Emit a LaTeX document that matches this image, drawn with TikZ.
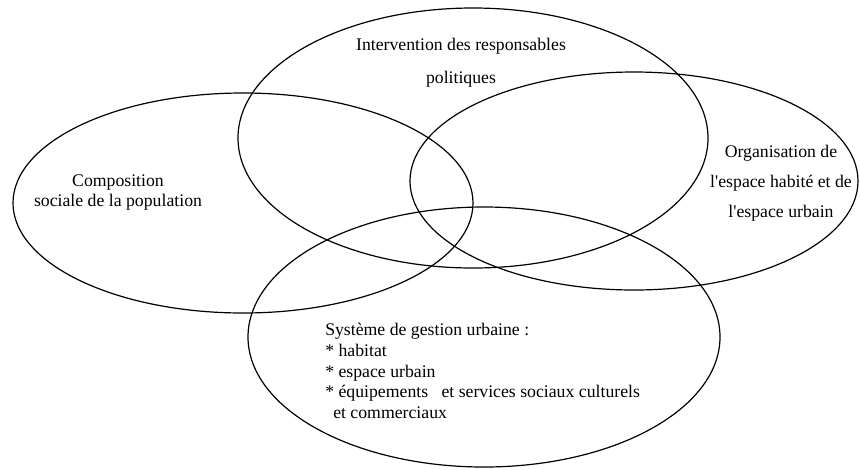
\documentclass[tikz,border=0pt]{standalone}
\usepackage{fontspec}
\setmainfont{Liberation Serif}
\usetikzlibrary{shapes.geometric}
\tikzset{
  zone/.style={draw, ellipse, line width=0.9pt, inner sep=0pt},
  lbl/.style={inner sep=0pt, font=\fontsize{13.3}{15}\selectfont}
}
\newcommand{\apos}{\textquotesingle}
\begin{document}
\begin{tikzpicture}[x=0.75pt,y=-0.75pt]
\useasboundingbox (0,0) rectangle (860,469);
\node[zone, minimum width=470*0.75pt, minimum height=260*0.75pt] (politique) at (473,138) {};
\node[zone, minimum width=460*0.75pt, minimum height=220*0.75pt] (social) at (243,203) {};
\node[zone, minimum width=448*0.75pt, minimum height=218*0.75pt] (espace) at (634,181) {};
\node[zone, minimum width=472*0.75pt, minimum height=260*0.75pt] (gestion) at (484,337) {};
\node[lbl, align=center, font=\fontsize{13.3}{24.75}\selectfont] (interv) at (461,63) {Intervention des responsables\\politiques};
\node[lbl, align=center] (compo) at (118,193) {Composition\\sociale de la population};
\node[lbl, align=center, font=\fontsize{13.3}{22.5}\selectfont] (orga) at (781,183) {Organisation de\\l\apos espace habité et de\\l\apos espace urbain};
\node[lbl, align=left, anchor=west, font=\fontsize{13.3}{15.5}\selectfont] (syst) at (325,371) {Système de gestion urbaine :\\* habitat\\* espace urbain\\* équipements \ \ et services sociaux culturels\\\hspace*{6pt}et commerciaux};
\end{tikzpicture}
\end{document}
